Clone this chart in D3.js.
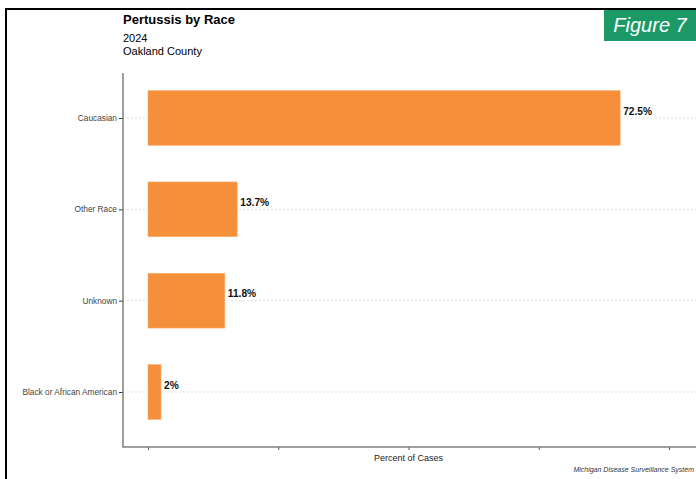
<!DOCTYPE html>
<html>
<head>
<meta charset="utf-8">
<script src="https://cdn.jsdelivr.net/npm/d3@7"></script>
<style>
  body { margin: 0; background: #fff; }
  svg { display: block; font-family: "Liberation Sans", Arial, sans-serif; }
</style>
</head>
<body>
<div id="chart"></div>
<script>
const categories = ["Caucasian", "Other Race", "Unknown", "Black or African American"];
const percents = [72.5, 13.7, 11.8, 2];
const valueLabels = ["72.5%", "13.7%", "11.8%", "2%"];
const xTicks = [0, 20, 40, 60, 80];

const W = 696, H = 479;
const panel = { left: 123, top: 73, right: 700, bottom: 447 };

const svg = d3.select("#chart").append("svg")
    .attr("width", W)
    .attr("height", H);

// outer frame (left and top edges visible)
svg.append("rect")
    .attr("x", 6).attr("y", 9)
    .attr("width", W + 20).attr("height", H + 20)
    .attr("fill", "none")
    .attr("stroke", "#000")
    .attr("stroke-width", 2);

// figure badge
svg.append("rect")
    .attr("x", 604).attr("y", 10)
    .attr("width", W - 604).attr("height", 31)
    .attr("fill", "#1b9a68");
svg.append("text")
    .attr("x", 650).attr("y", 32)
    .attr("text-anchor", "middle")
    .attr("fill", "#fff")
    .style("font-style", "italic")
    .style("font-size", "20px")
    .text("Figure 7");

// titles
svg.append("text")
    .attr("x", 123).attr("y", 24)
    .style("font-weight", "bold")
    .style("font-size", "13px")
    .text("Pertussis by Race");
svg.append("text")
    .attr("x", 123).attr("y", 42)
    .style("font-size", "11px")
    .text("2024");
svg.append("text")
    .attr("x", 123).attr("y", 55)
    .style("font-size", "11px")
    .text("Oakland County");

const x = d3.scaleLinear()
    .domain([0, 80])
    .range([148, 669]);

const y = d3.scalePoint()
    .domain(categories)
    .range([118, 392]);

const barH = y.step() * 0.6;

// dotted gridlines
svg.append("g")
    .selectAll("line")
    .data(categories)
    .enter()
    .append("line")
    .attr("x1", panel.left).attr("x2", panel.right)
    .attr("y1", d => y(d)).attr("y2", d => y(d))
    .attr("stroke", "#cfcfcf")
    .attr("stroke-width", 0.8)
    .attr("stroke-dasharray", "1.5,2.5");

// bars
svg.append("g")
    .selectAll("rect")
    .data(categories)
    .enter()
    .append("rect")
    .attr("x", x(0))
    .attr("y", d => y(d) - barH / 2)
    .attr("width", (d, i) => x(percents[i]) - x(0))
    .attr("height", barH)
    .attr("fill", "#f58f3a")
    .attr("stroke", "#f9b07a")
    .attr("stroke-width", 0.6);

// value labels
svg.append("g")
    .selectAll("text")
    .data(categories)
    .enter()
    .append("text")
    .attr("x", (d, i) => x(percents[i]) + 3)
    .attr("y", d => y(d) - 3.5)
    .style("font-weight", "bold")
    .style("font-size", "10.2px")
    .attr("fill", "#111")
    .text((d, i) => valueLabels[i]);

// y axis
const yAxis = svg.append("g")
    .attr("transform", `translate(${panel.left},0)`)
    .call(d3.axisLeft(y).tickSize(4).tickPadding(2));
yAxis.select(".domain").remove();
yAxis.selectAll(".tick line").attr("stroke", "#333");
yAxis.selectAll(".tick text")
    .attr("fill", "#444")
    .style("font-family", "Liberation Sans, Arial, sans-serif")
    .style("font-size", "8.3px");

// x axis
const xAxis = svg.append("g")
    .attr("transform", `translate(0,${panel.bottom})`)
    .call(d3.axisBottom(x).tickValues(xTicks).tickSize(3).tickFormat(""));
xAxis.select(".domain").remove();
xAxis.selectAll(".tick line").attr("stroke", "#555");

// panel axis lines
svg.append("line")
    .attr("x1", panel.left).attr("x2", panel.left)
    .attr("y1", panel.top).attr("y2", panel.bottom)
    .attr("stroke", "#7f7f7f")
    .attr("stroke-width", 1.5);
svg.append("line")
    .attr("x1", panel.left - 0.75).attr("x2", panel.right)
    .attr("y1", panel.bottom).attr("y2", panel.bottom)
    .attr("stroke", "#7f7f7f")
    .attr("stroke-width", 1.5);

// axis title
svg.append("text")
    .attr("x", x(40)).attr("y", 461)
    .attr("text-anchor", "middle")
    .attr("fill", "#222")
    .style("font-size", "9px")
    .text("Percent of Cases");

// source caption
svg.append("text")
    .attr("x", 694).attr("y", 472)
    .attr("text-anchor", "end")
    .attr("fill", "#333")
    .style("font-style", "italic")
    .style("font-size", "7px")
    .text("Michigan Disease Surveillance System");
</script>
</body>
</html>
